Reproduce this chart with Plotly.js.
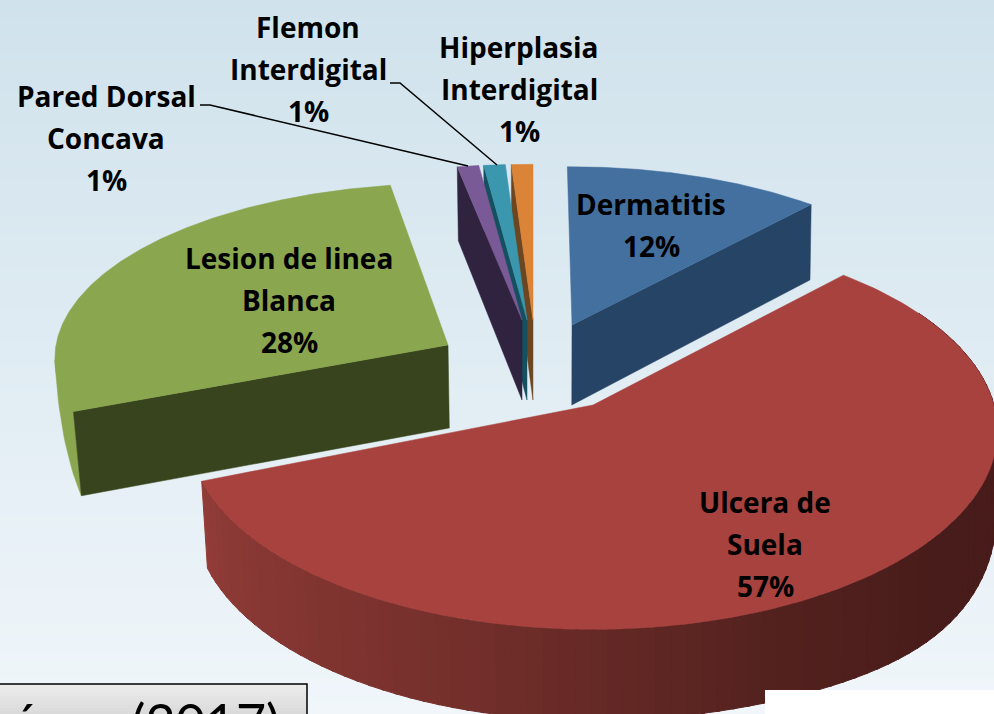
<!DOCTYPE html>
<html><head><meta charset="utf-8">
<script src="https://cdn.plot.ly/plotly-3.0.1.min.js"></script>
<style>html,body{margin:0;padding:0;background:#fff;overflow:hidden}#c{width:994px;height:714px}</style>
</head><body><div id="c"></div>
<script>
const categories = ['Dermatitis','Ulcera de Suela','Lesion de linea Blanca','Pared Dorsal Concava','Flemon Interdigital','Hiperplasia Interdigital'];
const shares = [12,57,28,1.03,1.03,1.03];
const labelLines = [['Dermatitis','12%'],['Ulcera de','Suela','57%'],['Lesion de linea','Blanca','28%'],['Pared Dorsal','Concava','1%'],['Flemon','Interdigital','1%'],['Hiperplasia','Interdigital','1%']];
const topColors = ['#44709f','#a8423f','#8aa64e','#7a5a96','#3b97ae','#db8336'];
const wallColors = ['#264465','#4a1c1a','#38441d','#30233f','#14505f','#6b4620'];
const apexX = [572,593,448,522,527,533];
const apexY = [325,405,345,320,320,320];
const radX = [396,401,392,396,396,396];
const radY = [187,195,174,184,184,184];
const persp = [5.5,7.65,13,5.5,5.5,5.5];
const depth = [80,85,83,80,80,80];
const startTweak = [-0.8,0,0,0,0,0];
const endTweak = [0,0,2,0,0,0];
const labelX = [651,765,289,106,308,519];
const labelY = [204,502,258,96,27,47];
const citation = 'Jiménez (2017)';

const W=994,H=714,LH=42;
const total=shares.reduce((a,b)=>a+b,0);
let cum=0; const starts=shares.map((v,i)=>{const a=cum/total*360;cum+=v;return a+startTweak[i];});
const ends=shares.map((v,i)=>starts[i]-startTweak[i]+v/total*360+endTweak[i]);
function P(i,t){const r=t*Math.PI/180,u=Math.sin(r),v=Math.cos(r),s=persp[i]/(persp[i]+v);
  return [apexX[i]+radX[i]*u*s, apexY[i]-radY[i]*v*s, s];}
function drop(p,i,extra){const f=p[0]<520?0.018:0.004;return [p[0]+(520-p[0])*f, p[1]+depth[i]+(extra||0)+(p[2]-1)*40];}
function poly(pts,color,lw){return {type:'scatter',mode:'lines',x:pts.map(p=>p[0]),y:pts.map(p=>p[1]),fill:'toself',fillcolor:color,
  line:{color:color,width:lw||0.5},hoverinfo:'skip',showlegend:false};}
function face(i){const pts=[[apexX[i],apexY[i],1]];for(let t=starts[i];t<=ends[i]+1e-6;t+=Math.max(0.25,(ends[i]-starts[i])/200))pts.push(P(i,t));pts.push(P(i,ends[i]));pts.push(pts[0]);return poly(pts,topColors[i]);}
function edgeWall(i,t){const a=[apexX[i],apexY[i],1],b=P(i,t);return poly([a,b,drop(b,i),drop(a,i),a],wallColors[i]);}
function mix(a,b,f){return 'rgb('+a.map((c,j)=>Math.round(c+(b[j]-c)*f)).join(',')+')';}
function arcWall(i,t0,t1){const out=[];const stops=[[250,[146,60,56]],[200,[118,48,44]],[160,[84,34,31]],[130,[72,28,26]],[60,[72,28,26]]];
  const bump=t=>12*Math.exp(-Math.pow((t-125)/25,2));
  for(let t=t1;t>t0;t-=2){const t2=Math.max(t-2.4,t0),a=P(i,t),b=P(i,t2);let c='rgb(72,28,26)';
    for(let k=0;k<stops.length-1;k++){if(t<=stops[k][0]&&t>=stops[k+1][0]){c=mix(stops[k][1],stops[k+1][1],(stops[k][0]-t)/(stops[k][0]-stops[k+1][0]));}}
    out.push(poly([a,b,drop(b,i,bump(t2)),drop(a,i,bump(t)),a],c,1));}
  return out;}
function rimSliver(i,tA,tCorner){const A=P(i,tA),C=P(i,tCorner),B=drop(C,i),pts=[C];
  for(let q=0;q<=1.0001;q+=0.05){const m=1-q;pts.push([m*m*A[0]+2*m*q*(A[0]+5)+q*q*B[0],m*m*A[1]+2*m*q*(A[1]+85)+q*q*B[1]]);}
  pts.push(C);return poly(pts,topColors[i]);}
const traces=[];
traces.push(edgeWall(0,ends[0]),face(0));
traces.push(rimSliver(2,265,starts[2]),edgeWall(2,starts[2]),face(2));
[5,4,3].forEach(i=>traces.push(edgeWall(i,starts[i]),face(i)));
traces.push(...arcWall(1,60,ends[1]),face(1));
traces.push({type:'scatter',mode:'lines',x:[200,210,468],y:[105,105,166],line:{color:'#000',width:1.5},hoverinfo:'skip',showlegend:false});
traces.push({type:'scatter',mode:'lines',x:[390,400,497],y:[83,83,165],line:{color:'#000',width:1.5},hoverinfo:'skip',showlegend:false});

const shapes=[];const bands=119;
for(let b=0;b<bands;b++){const f=b/(bands-1);
  shapes.push({type:'rect',layer:'below',xref:'x',yref:'y',x0:0,x1:W,y0:b*H/bands,y1:(b+1)*H/bands+1,line:{width:0},fillcolor:mix([208,226,236],[240,246,250],f)});}
shapes.push({type:'rect',layer:'above',xref:'x',yref:'y',x0:765,x1:W,y0:690,y1:H,line:{width:0},fillcolor:'#fff'});
for(let b=0;b<10;b++){shapes.push({type:'rect',layer:'above',xref:'x',yref:'y',x0:-2,x1:307,y0:684+b*3,y1:684+(b+1)*3,line:{width:0},fillcolor:mix([236,236,236],[218,218,218],b/9)});}
shapes.push({type:'rect',layer:'above',xref:'x',yref:'y',x0:-2,x1:307,y0:684,y1:H+3,line:{color:'#000',width:1.5},fillcolor:'rgba(0,0,0,0)'});
const annotations=[];
labelLines.forEach((ls,i)=>ls.forEach((t,j)=>annotations.push({xref:'x',yref:'y',x:labelX[i],y:labelY[i]+j*LH,text:t,showarrow:false,xanchor:'center',yanchor:'middle',font:{family:'Open Sans',size:28,color:'#000',weight:700}})));
annotations.push({xref:'x',yref:'y',x:282,y:689,xanchor:'right',yanchor:'top',text:citation,showarrow:false,font:{family:'Lato',size:52,color:'#000'}});
Plotly.newPlot('c',traces,{width:W,height:H,margin:{l:0,r:0,t:0,b:0},paper_bgcolor:'#fff',plot_bgcolor:'rgba(0,0,0,0)',showlegend:false,
  xaxis:{range:[0,W],visible:false,fixedrange:true},yaxis:{range:[H,0],visible:false,fixedrange:true},shapes:shapes,annotations:annotations},{staticPlot:true,displayModeBar:false});
</script></body></html>
